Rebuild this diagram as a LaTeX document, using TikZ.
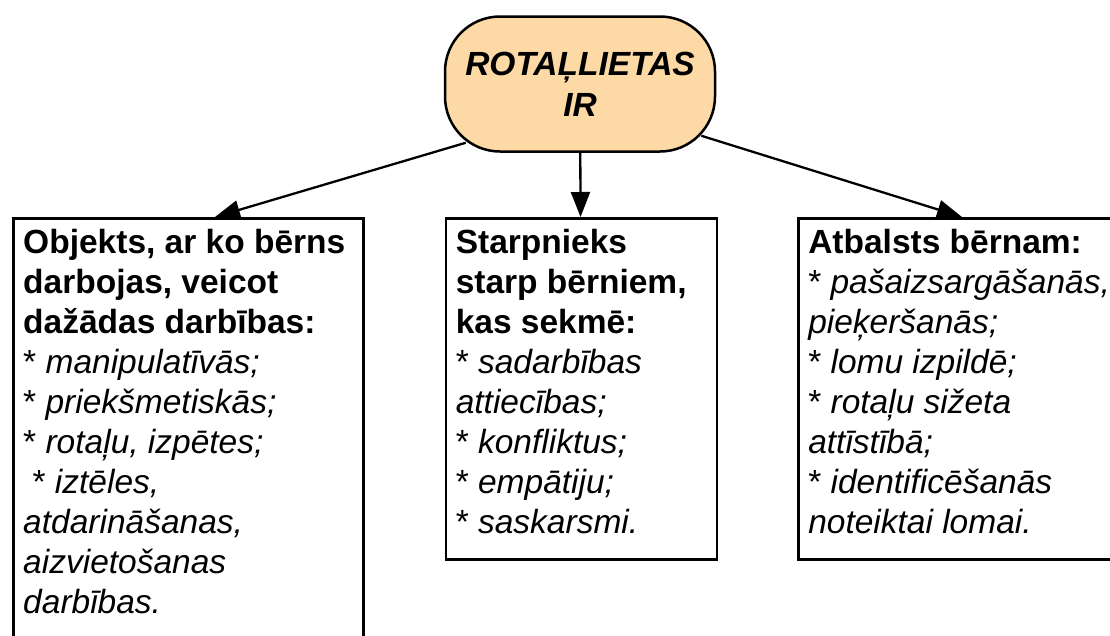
\documentclass[tikz,border=0pt]{standalone}
\usepackage{fontspec}
\setmainfont{Liberation Sans}
\usetikzlibrary{arrows.meta}
\definecolor{peach}{RGB}{252,217,165}
\begin{document}
\begin{tikzpicture}[x=1pt,y=-1pt,line width=2.3pt,
			font=\fontsize{33.5}{40}\selectfont,
			>={Triangle[length=25pt,width=19pt]},
			main node/.style = {draw, line width=2.5pt, fill=peach, rounded corners=55pt, minimum width=270pt, minimum height=135pt, align=center, font=\fontsize{33.5}{41}\selectfont\bfseries\itshape},
			list box/.style = {draw, line width=2.5pt, anchor=north west, inner xsep=10pt, inner ysep=11pt}]
			
			\useasboundingbox[fill=white] (0,0) rectangle (1110,635);
			\clip (0,0) rectangle (1110,635);
			
			\node[main node] (top) at (580,84) {ROTAĻLIETAS\\IR};
			
			\node[list box] (obj) at (12,217) {\parbox[t][431pt][t]{330pt}{\textbf{Objekts, ar ko bērns}\\ \textbf{darbojas, veicot}\\ \textbf{dažādas darbības:}\\ {*} \textit{manipulatīvās;}\\ {*} \textit{priekšmetiskās;}\\ {*} \textit{rotaļu, izpētes;}\\ \hspace*{0.28em}* \textit{iztēles,}\\ \textit{atdarināšanas,}\\ \textit{aizvietošanas}\\ \textit{darbības.}}};
			\node[list box] (starp) at (444.5,217) {\parbox[t][319pt][t]{251pt}{\textbf{Starpnieks}\\ \textbf{starp bērniem,}\\ \textbf{kas sekmē:}\\ {*} \textit{sadarbības}\\ \textit{attiecības;}\\ {*} \textit{konfliktus;}\\ {*} \textit{empātiju;}\\ {*} \textit{saskarsmi.}}};
			\node[list box] (atb) at (797,217) {\parbox[t][319pt][t]{340pt}{\textbf{Atbalsts bērnam:}\\ {*} \textit{pašaizsargāšanās,}\\ \textit{pieķeršanās;}\\ {*} \textit{lomu izpildē;}\\ {*} \textit{rotaļu sižeta}\\ \textit{attīstībā;}\\ {*} \textit{identificēšanās}\\ \textit{noteiktai lomai.}}};
			
			\coordinate (objtip) at ([xshift=203pt]obj.north west);
			\coordinate (atbtip) at ([xshift=165pt]atb.north west);
			
			\draw[->] ([xshift=22pt,yshift=10pt]top.south west) -- (objtip);
			\draw[->] (top) -- (starp);
			\draw[->] ([xshift=-15pt,yshift=17pt]top.south east) -- (atbtip);
			
			\end{tikzpicture}
\end{document}
